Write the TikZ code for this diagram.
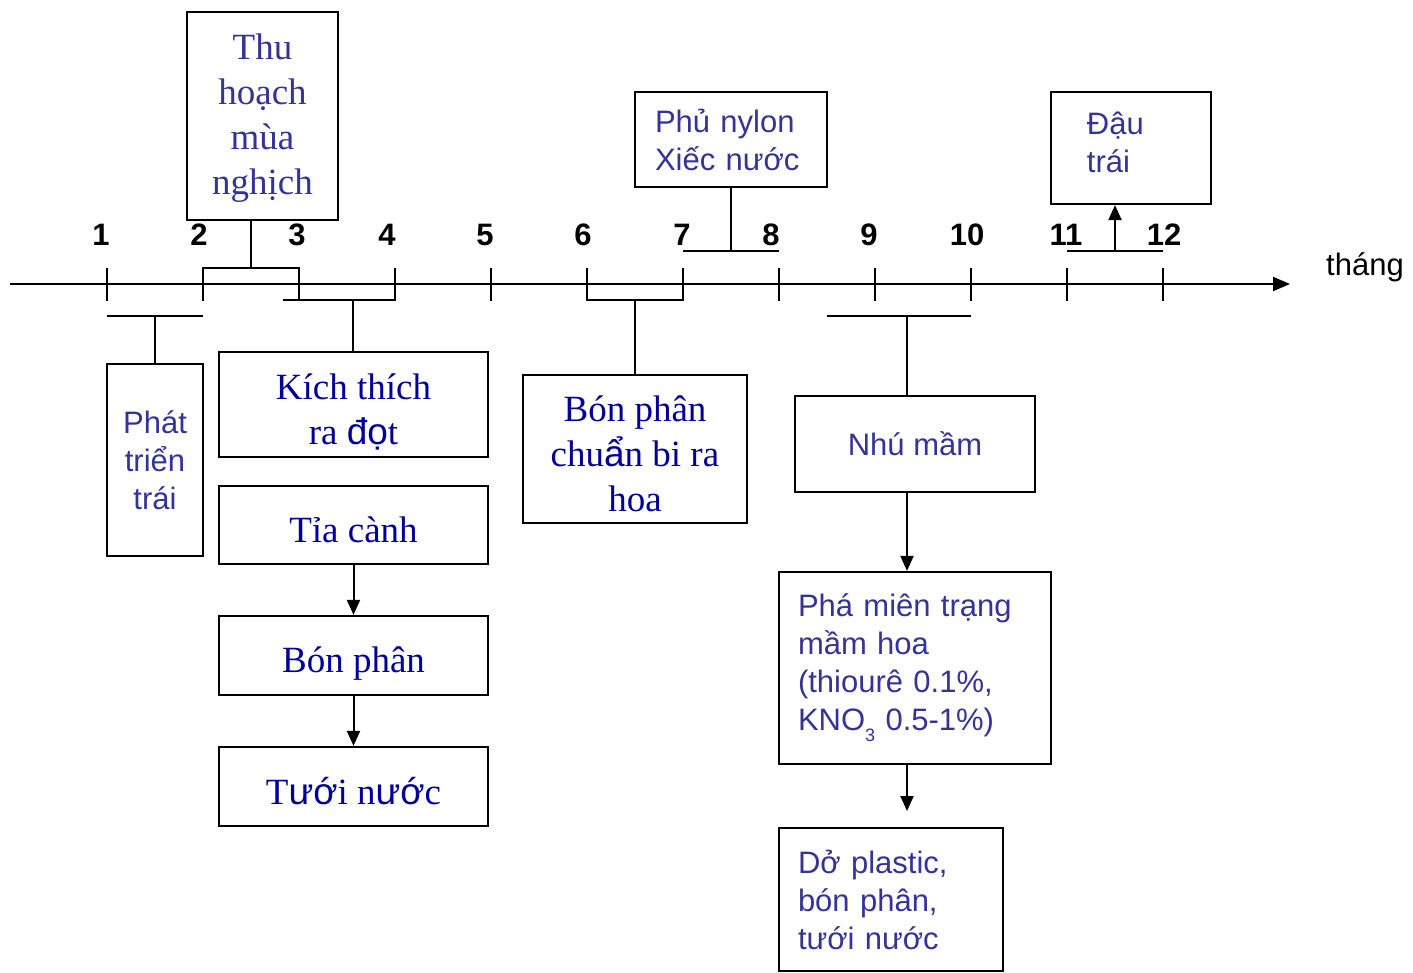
\documentclass[tikz,border=0pt]{standalone}
\usepackage{fontspec}
\setmainfont{Liberation Serif}
\setsansfont{Liberation Sans}
\newfontfamily\vsans{Liberation Sans}
\usetikzlibrary{arrows.meta}
\definecolor{navy}{HTML}{000099}
\definecolor{slate}{HTML}{333399}
\newcommand{\sv}[1]{{\vsans #1}}
\begin{document}
\begin{tikzpicture}[x=1pt,y=-1pt,line width=2pt,
  frame/.style={draw,line width=2.2pt,inner sep=0pt},
  seriftext/.style={inner sep=0pt,align=center,text=navy,font=\fontsize{37}{45}\selectfont},
  sansbox/.style={draw,line width=2.2pt,inner ysep=0pt,align=left,text=slate,font=\sffamily\fontsize{31}{38}\selectfont},
  num/.style={font=\sffamily\bfseries\fontsize{31}{31}\selectfont,inner sep=0pt},
  arr/.style={-{Triangle[length=15pt,width=13pt]}}]
\useasboundingbox (0,0) rectangle (1413,973);

% axis
\coordinate (axL) at (10,284);
\coordinate (axR) at (1290,284);
\draw[-{Triangle[length=17pt,width=14pt]}] (axL) -- (axR);
\node[font=\sffamily\fontsize{31}{31}\selectfont,inner sep=0pt] (thang) at (1365,267) {tháng};
\foreach \i in {1,...,12}{
  \coordinate (t\i) at ({107+96*(\i-1)},284);
  \draw ([yshift=-17pt]t\i) -- ([yshift=16pt]t\i);
}
\node[num] (n1) at (101,235) {1};
\node[num] (n2) at (199,235) {2};
\node[num] (n3) at (297,235) {3};
\node[num] (n4) at (387,235) {4};
\node[num] (n5) at (485,235) {5};
\node[num] (n6) at (583,235) {6};
\node[num] (n7) at (682,235) {7};
\node[num] (n8) at (771,235) {8};
\node[num] (n9) at (869,235) {9};
\node[num] (n10) at (967,235) {10};
\node[num] (n11) at (1066,235) {11};
\node[num] (n12) at (1164,235) {12};

% serif boxes (frame + text)
\node[frame,minimum width=151pt,minimum height=208pt] (thu) at (262.5,116) {};
\node[seriftext,text=slate] (thuT) at ([yshift=-2pt]thu.center) {Thu\\hoạch\\mùa\\nghịch};
\node[frame,minimum width=269pt,minimum height=105pt] (kich) at (353.5,404.5) {};
\node[seriftext] (kichT) at ([yshift=-7pt]kich.center) {Kích thích\\ra \sv{đọ}t};
\node[frame,minimum width=269pt,minimum height=78pt] (tia) at (353.5,525) {};
\node[seriftext] (tiaT) at ([yshift=-5pt]tia.center) {Tỉa cành};
\node[frame,minimum width=269pt,minimum height=79pt] (bon) at (353.5,655.5) {};
\node[seriftext] (bonT) at ([yshift=-8pt]bon.center) {Bón phân};
\node[frame,minimum width=269pt,minimum height=79pt] (tuoi) at (353.5,786.5) {};
\node[seriftext] (tuoiT) at ([yshift=-5pt]tuoi.center) {T\sv{ướ}i n\sv{ướ}c};
\node[frame,minimum width=224pt,minimum height=148pt] (bonhoa) at (635,449) {};
\node[seriftext] (bonhoaT) at ([yshift=-5pt]bonhoa.center) {Bón phân\\chu\sv{ẩ}n bi ra\\hoa};

% sans boxes
\node[sansbox,align=center,inner xsep=0pt,minimum width=96pt,minimum height=192pt] (phat) at (155,460) {Phát\\triển\\trái};
\node[sansbox,inner xsep=20pt,text width=152pt,minimum height=95pt] (phu) at (731,139.5) {Phủ nylon\\Xiếc nước};
\node[sansbox,align=center,inner xsep=0pt,minimum width=240pt,minimum height=96pt] (nhu) at (915,444) {Nhú mầm};
\node[sansbox,inner xsep=19pt,text width=234pt,minimum height=192pt] (pha) at (915,668) {Phá miên trạng\\mầm hoa\\(thiourê 0.1\%,\\KNO\raisebox{-0.35em}{\fontsize{18}{18}\selectfont 3} 0.5-1\%)};
\node[sansbox,inner xsep=19pt,text width=186pt,minimum height=143pt] (do) at (891,899.5) {Dở plastic,\\bón phân,\\tưới nước};
\node[frame,minimum width=160pt,minimum height=112pt] (dau) at (1131,148) {};
\node[inner sep=0pt,align=left,text=slate,font=\sffamily\fontsize{31}{38}\selectfont,anchor=west] (dauT) at ([xshift=36pt,yshift=6pt]dau.west) {Đậu\\trái};

% brackets and connectors
\coordinate (thuB) at (251,268);
\draw (203,300) -- (203,268) -- (299,268) -- (299,300);
\draw (thuB) -- (thuB |- thu.south);

\coordinate (kichB) at (353,300);
\draw (283,300) -- (395,300);
\draw (kichB) -- (kichB |- kich.north);

\coordinate (phatB) at (155,316);
\draw (107,316) -- (203,316);
\draw (phatB) -- (phat.north);

\coordinate (hoaB) at (635,300);
\draw (587,284) -- (587,300) -- (683,300) -- (683,284);
\draw (hoaB) -- (bonhoa.north);

\coordinate (phuB) at (731,251);
\draw (683,251) -- (779,251);
\draw (phu.south) -- (phuB);

\coordinate (nhuB) at (907,316);
\draw (827,316) -- (971,316);
\draw (nhuB) -- (nhuB |- nhu.north);
\draw[arr] (nhuB |- nhu.south) -- (nhuB |- pha.north);
\coordinate (doEnd) at (907,811);
\draw[arr] (nhuB |- pha.south) -- (doEnd);

\coordinate (dauB) at (1115,251);
\draw (1067,251) -- (1163,251);
\draw[arr] (dauB) -- (dauB |- dau.south);

\draw[arr] (tia.south) -- (bon.north);
\draw[arr] (bon.south) -- (tuoi.north);
\end{tikzpicture}
\end{document}
